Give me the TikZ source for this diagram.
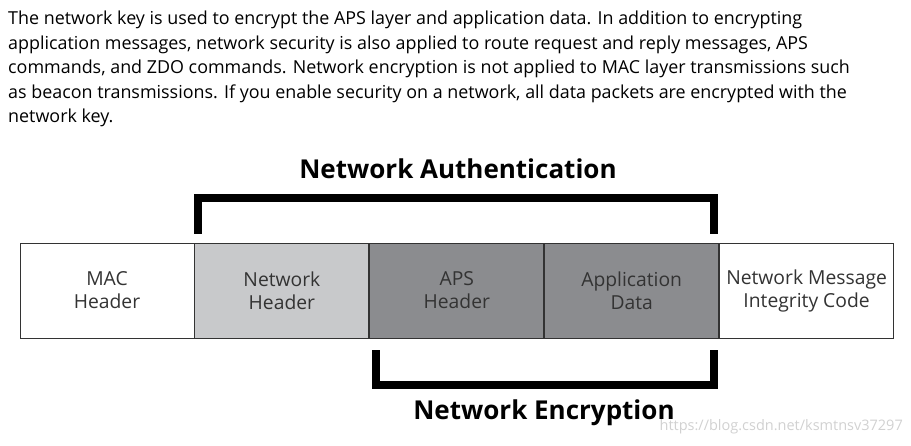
\documentclass[tikz,border=0pt]{standalone}
\usepackage{fontspec}
\setmainfont{Open Sans}
\usetikzlibrary{positioning}
\definecolor{lightfield}{HTML}{C8C9CB}
\definecolor{darkfield}{HTML}{8B8C8F}
\definecolor{fieldtext}{HTML}{333333}

\begin{document}
\begin{tikzpicture}[
      x=1pt,y=-1pt,
      field/.style={draw=fieldtext,line width=0.9pt,minimum width=174pt,minimum height=95pt,
        inner sep=0pt,align=center,font=\fontsize{19.3}{23}\selectfont,text=fieldtext},
      bracket/.style={line width=8pt,line cap=rect},
      heading/.style={font=\fontsize{26}{30}\selectfont\bfseries,inner sep=0pt},
      textline/.style={anchor=west,font=\fontsize{17.9}{20}\selectfont,inner sep=0pt},
    ]
    \useasboundingbox (0,0) rectangle (911,445);
    \foreach \t [count=\i] in {%
      {The network key is used to encrypt the APS layer and application data. In addition to encrypting},
      {application messages, network security is also applied to route request and reply messages, APS},
      {commands, and ZDO commands. Network encryption is not applied to MAC layer transmissions such},
      {as beacon transmissions. If you enable security on a network, all data packets are encrypted with the},
      {network key.}}
      \node[textline] (line\i) at (8,{20+24.5*(\i-1)}) {\t};
    \node[field,fill=white] (MAC) at (107,290.5) {MAC\\Header};
    \node[field,fill=lightfield,right=0pt of MAC] (NWK) {Network\\Header};
    \node[field,fill=darkfield,right=0pt of NWK] (APS) {APS\\Header};
    \node[field,fill=darkfield,right=0pt of APS] (Data) {Application\\Data};
    \node[field,fill=white,right=0pt of Data] (MIC) {Network Message\\Integrity Code};
    \coordinate (auth left) at (198,230);
    \coordinate (auth right) at (714,230);
    \draw[bracket] (auth left) -- ++(0,-32) -| (auth right);
    \coordinate (enc left) at (376,354);
    \coordinate (enc right) at (714,354);
    \draw[bracket] (enc left) -- ++(0,31) -| (enc right);
    \node[heading] (auth) at (458,169) {Network Authentication};
    \node[heading] (enc) at (544,413) {Network Encryption};
    \node[font=\fontsize{14.5}{16}\selectfont,text=black!18,anchor=east,inner sep=0pt] (mark) at (903,427) {https://blog.csdn.net/ksmtnsv37297};
  \end{tikzpicture}
\end{document}
